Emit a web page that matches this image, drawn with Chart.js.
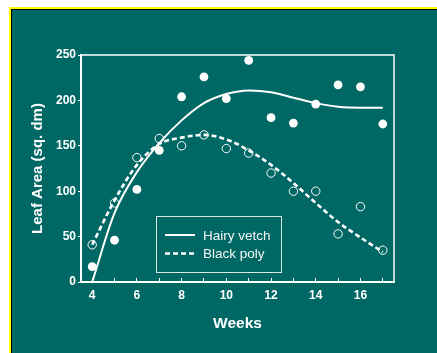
<!DOCTYPE html>
<html>
<head>
<meta charset="utf-8">
<script src="https://cdn.jsdelivr.net/npm/chart.js@4"></script>
<style>
  html, body { margin: 0; padding: 0; background: #fff; }
  body { width: 437px; height: 353px; position: relative; overflow: hidden; }
  .frame {
    position: absolute; left: 9px; top: 7px; width: 440px; height: 360px;
    border-left: 2px solid #ffff00; border-top: 2px solid #ffff00; background: #000;
  }
  .wrap {
    position: absolute; left: 12px; top: 10px; width: 425px; height: 343px;
    background: #006864;
  }
</style>
</head>
<body>
<div class="frame"></div>
<div class="wrap"><canvas id="myChart"></canvas></div>
<script>
// data
const weeks = [4, 5, 6, 7, 8, 9, 10, 11, 12, 13, 14, 15, 16, 17];
const hairyVetch = [17, 46, 102, 145, 204, 226, 202, 244, 181, 175, 196, 217, 215, 174];
const blackPoly = [41, 87, 137, 158, 150, 162, 147, 142, 120, 100, 100, 53, 83, 35];
// fitted curves
const hairyVetchFit = [0, 76, 121, 153, 178, 197, 207, 211, 209, 203, 197, 193, 192, 192];
const blackPolyFit = [41, 90, 129, 152, 159, 162, 157, 145, 129, 109, 87, 66, 49, 33];
const yTicks = [0, 50, 100, 150, 200, 250];

const white = '#ffffff';
Chart.defaults.font.family = '"Liberation Sans", Arial, sans-serif';
Chart.defaults.color = white;

function pts(ys) {
    return weeks.map((w, i) => ({ x: w, y: ys[i] }));
}

// top + right frame lines and the boxed legend inside the plot
const extras = {
    id: 'extras',
    afterDraw(chart) {
        const ctx = chart.ctx, a = chart.chartArea;
        ctx.save();
        ctx.strokeStyle = white;
        ctx.lineWidth = 1.5;
        ctx.beginPath();
        ctx.moveTo(a.left, a.top);
        ctx.lineTo(a.right, a.top);
        ctx.lineTo(a.right, a.bottom);
        ctx.stroke();

        // legend
        const bx = a.left + 75, by = a.top + 161;
        ctx.lineWidth = 1;
        ctx.strokeStyle = 'rgba(255,255,255,0.85)';
        ctx.strokeRect(bx + 0.5, by + 0.5, 125, 56);
        ctx.font = '13.5px "Liberation Sans", Arial, sans-serif';
        ctx.textBaseline = 'middle';
        ctx.fillStyle = '#f2f6f5';
        [0, 1].forEach(i => {
            const ds = chart.data.datasets[i];
            const y = by + 19 + i * 18.5;
            ctx.strokeStyle = ds.borderColor;
            ctx.lineWidth = ds.borderWidth;
            ctx.setLineDash(ds.borderDash || []);
            ctx.beginPath();
            ctx.moveTo(bx + 9, y);
            ctx.lineTo(bx + 39, y);
            ctx.stroke();
            ctx.setLineDash([]);
            ctx.fillText(ds.label, bx + 47, y + 1);
        });
        ctx.restore();
    }
};

var ctx = document.getElementById('myChart').getContext('2d');

var myChart = new Chart(ctx, {
    type: 'scatter',
    data: {
        datasets: [{
            label: 'Hairy vetch',
            data: pts(hairyVetchFit),
            showLine: true,
            borderColor: white,
            borderWidth: 2,
            pointRadius: 0,
            cubicInterpolationMode: 'monotone'
        }, {
            label: 'Black poly',
            data: pts(blackPolyFit),
            showLine: true,
            borderColor: white,
            borderWidth: 2.6,
            borderDash: [5, 3],
            pointRadius: 0,
            cubicInterpolationMode: 'monotone'
        }, {
            label: 'Hairy vetch data',
            data: pts(hairyVetch),
            pointRadius: 4.4,
            pointBackgroundColor: white,
            pointBorderColor: white,
            pointBorderWidth: 0
        }, {
            label: 'Black poly data',
            data: pts(blackPoly),
            pointRadius: 4.2,
            pointBackgroundColor: 'rgba(0,0,0,0)',
            pointBorderColor: white,
            pointBorderWidth: 1
        }]
    },
    options: {
        responsive: true,
        maintainAspectRatio: false,
        animation: false,
        layout: { padding: { left: 0, top: 45, right: 43, bottom: 0 } },
        plugins: { legend: { display: false }, tooltip: { enabled: false } },
        scales: {
            x: {
                type: 'linear',
                min: 3.5,
                max: 17.5,
                afterBuildTicks: s => { s.ticks = weeks.map(v => ({ value: v })); },
                afterFit: s => { s.height = 71; },
                grid: { drawOnChartArea: false, tickLength: -4, color: white, tickWidth: 1 },
                border: { color: white, width: 2 },
                ticks: {
                    padding: 10,
                    color: white,
                    font: { size: 12, weight: 'bold' },
                    callback: v => (v % 2 === 0 ? v : '')
                },
                title: {
                    display: true,
                    text: 'Weeks',
                    color: white,
                    font: { size: 15.5, weight: 'bold' },
                    padding: { top: 0, bottom: 20 }
                }
            },
            y: {
                min: 0,
                max: 250,
                afterBuildTicks: s => { s.ticks = yTicks.map(v => ({ value: v })); },
                afterFit: s => { s.width = 69; },
                grid: { drawOnChartArea: false, tickLength: 3, color: white },
                border: { color: white, width: 2 },
                ticks: {
                    padding: 2,
                    color: white,
                    font: { size: 12, weight: 'bold' }
                },
                title: {
                    display: true,
                    text: 'Leaf Area (sq. dm)',
                    color: white,
                    font: { size: 15, weight: 'bold' },
                    padding: { top: 16.5, bottom: 0 }
                }
            }
        }
    },
    plugins: [extras]
});
</script>
</body>
</html>
